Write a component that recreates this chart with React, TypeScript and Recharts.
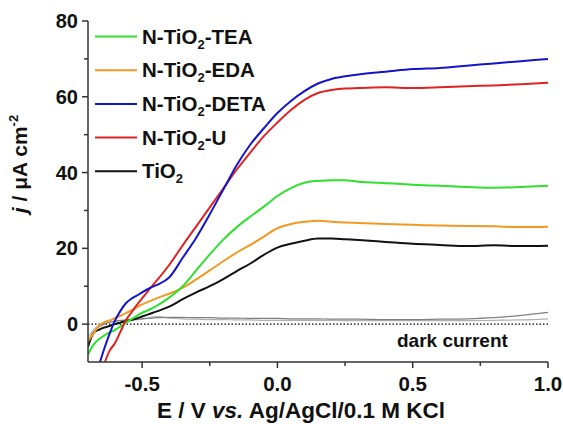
import React from 'react';
import { LineChart, Line, XAxis, YAxis, ReferenceLine } from 'recharts';

// potential (V vs. Ag/AgCl) shared by all curves
const potential = [
  -0.7, -0.68, -0.66, -0.64, -0.62, -0.6, -0.58, -0.56, -0.54, -0.52, -0.5, -0.48, -0.46, -0.44,
  -0.4, -0.35, -0.3, -0.25, -0.2, -0.15, -0.1, -0.05, 0, 0.05, 0.1, 0.15, 0.2, 0.25, 0.3, 0.4,
  0.5, 0.6, 0.7, 0.8, 0.9, 1.0,
];

// photocurrent density, µA cm^-2
const teaCurrent = [
  -8, -5.5, -4, -3, -2.2, -1.5, -0.6, 0.4, 1.3, 2.2, 3.0, 3.6, 4.3, 5.1,
  7.0, 10.0, 14.2, 18.4, 22.3, 25.6, 28.4, 31.0, 33.8, 35.9, 37.3, 37.8, 38.0, 38.0, 37.6, 37.2,
  36.8, 36.5, 36.2, 36.0, 36.2, 36.5,
];
const edaCurrent = [
  -4.5, -2.5, -0.5, 0.5, 1.0, 1.6, 2.2, 2.9, 3.6, 4.4, 5.2, 5.8, 6.4, 7.0,
  8.0, 9.6, 11.8, 14.2, 16.6, 18.9, 20.9, 23.1, 25.3, 26.4, 27.0, 27.3, 27.0, 26.8, 26.7, 26.4,
  26.2, 26.0, 25.9, 25.8, 25.6, 25.7,
];
const detaCurrent = [
  null, null, -11, -6.5, -2.5, 1.0, 3.5, 5.5, 6.7, 7.5, 8.4, 9.2, 9.9, 10.5,
  12.3, 17.5, 22.8, 29.0, 35.5, 42.0, 47.4, 51.7, 55.7, 58.9, 61.5, 63.5, 64.7, 65.4, 65.9, 66.6,
  67.3, 67.6, 68.2, 68.8, 69.4, 70.0,
];
const uCurrent = [
  null, null, null, -10.5, -7, -5, -2, 1.0, 3.0, 5.0, 6.8, 8.6, 10.3, 12.0,
  15.6, 20.8, 25.8, 30.8, 35.8, 40.8, 45.3, 49.6, 53.2, 56.5, 59.2, 61.0, 61.8, 62.2, 62.3, 62.5,
  62.3, 62.5, 62.8, 63.0, 63.3, 63.7,
];
const tio2Current = [
  -6, -2.4, -1.5, -0.9, -0.5, 0, 0.4, 0.8, 1.1, 1.5, 2.0, 2.5, 3.0, 3.5,
  4.6, 6.6, 8.4, 10.0, 11.9, 14.0, 16.0, 18.3, 20.2, 21.2, 22.0, 22.6, 22.6, 22.4, 22.2, 21.7,
  21.2, 20.9, 20.6, 20.8, 20.6, 20.7,
];
const darkCurrentA = [
  -4.8, -2.2, -0.8, 0.0, 0.5, 0.8, 1.0, 1.1, 1.2, 1.3, 1.4, 1.5, 1.6, 1.7,
  1.8, 1.8, 1.7, 1.7, 1.6, 1.6, 1.5, 1.5, 1.5, 1.4, 1.4, 1.4, 1.3, 1.3, 1.3, 1.2,
  1.2, 1.3, 1.4, 1.7, 2.3, 3.1,
];
const darkCurrentB = [
  -3.5, -1.5, -0.4, 0.2, 0.5, 0.7, 0.9, 1.0, 1.1, 1.2, 1.4, 1.6, 1.9, 2.0,
  1.6, 1.4, 1.3, 1.2, 1.2, 1.1, 1.1, 1.0, 1.0, 1.0, 1.0, 1.0, 1.0, 0.9, 0.9, 0.9,
  0.9, 0.9, 0.9, 1.0, 1.1, 1.4,
];

const xTicks = [-0.5, -0.25, 0, 0.25, 0.5, 0.75, 1.0];
const xLabelled = [-0.5, 0, 0.5, 1.0];
const yTicks = [0, 10, 20, 30, 40, 50, 60, 70, 80];
const yLabelled = [0, 20, 40, 60, 80];

const legendNames = [
  { key: 'tea', sub: 'TEA', color: '#2fe02f' },
  { key: 'eda', sub: 'EDA', color: '#f09a23' },
  { key: 'deta', sub: 'DETA', color: '#1414c8' },
  { key: 'u', sub: 'U', color: '#e02222' },
  { key: 'tio2', sub: '', color: '#111111' },
];

const data = potential.map((e, i) => ({
  e,
  tea: teaCurrent[i],
  eda: edaCurrent[i],
  deta: detaCurrent[i],
  u: uCurrent[i],
  tio2: tio2Current[i],
  darkA: darkCurrentA[i],
  darkB: darkCurrentB[i],
}));

const font = '"Liberation Sans", Arial, sans-serif';
const axisColor = '#333';

const XTick = (props: any) => {
  const { x, y, payload } = props;
  const major = xLabelled.includes(payload.value);
  return (
    <g>
      <line x1={x} y1={y} x2={x} y2={y + (major ? 6 : 4)} stroke={axisColor} strokeWidth={1.5} />
      {major && (
        <text x={x} y={y + 29} textAnchor="middle" fontFamily={font} fontWeight="bold" fontSize={20.5} fill="#111">
          {payload.value.toFixed(1)}
        </text>
      )}
    </g>
  );
};

const YTick = (props: any) => {
  const { x, y, payload } = props;
  const major = yLabelled.includes(payload.value);
  return (
    <g>
      <line x1={x} y1={y} x2={x - (major ? 6 : 4)} y2={y} stroke={axisColor} strokeWidth={1.5} />
      {major && (
        <text x={x - 10} y={y + 7} textAnchor="end" fontFamily={font} fontWeight="bold" fontSize={20} fill="#111">
          {payload.value}
        </text>
      )}
    </g>
  );
};

const App = () => {
  return (
    <div style={{ position: 'absolute', left: 0, top: 0, background: '#fff' }}>
      <LineChart width={563} height={424} data={data} margin={{ top: 21, right: 15, left: 0, bottom: 0 }}>
        <XAxis
          dataKey="e"
          type="number"
          domain={[-0.7, 1.0]}
          ticks={xTicks}
          allowDataOverflow
          height={62}
          tickSize={0}
          tickMargin={0}
          tickLine={false}
          axisLine={{ stroke: axisColor, strokeWidth: 1.5 }}
          tick={<XTick />}
          interval={0}
        />
        <XAxis xAxisId="top" orientation="top" type="number" domain={[-0.7, 1.0]} height={0} tick={false} tickLine={false} axisLine={{ stroke: axisColor, strokeWidth: 1.5 }} />
        <YAxis
          type="number"
          domain={[-10, 80]}
          ticks={yTicks}
          allowDataOverflow
          width={88}
          tickSize={0}
          tickMargin={0}
          tickLine={false}
          axisLine={{ stroke: axisColor, strokeWidth: 1.5 }}
          tick={<YTick />}
          interval={0}
        />
        <YAxis yAxisId="right" orientation="right" type="number" domain={[-10, 80]} width={0} tick={false} tickLine={false} axisLine={{ stroke: axisColor, strokeWidth: 1.5 }} />

        <ReferenceLine y={0} stroke="#000" strokeWidth={1.2} strokeDasharray="1.5 2" />

        <Line dataKey="darkB" stroke="#b0b0b0" strokeWidth={1.2} dot={false} type="monotone" isAnimationActive={false} />
        <Line dataKey="darkA" stroke="#808080" strokeWidth={1.2} dot={false} type="monotone" isAnimationActive={false} />
        <Line dataKey="tio2" stroke="#111111" strokeWidth={2} dot={false} type="monotone" isAnimationActive={false} />
        <Line dataKey="eda" stroke="#f09a23" strokeWidth={2} dot={false} type="monotone" isAnimationActive={false} />
        <Line dataKey="tea" stroke="#2fe02f" strokeWidth={2} dot={false} type="monotone" isAnimationActive={false} />
        <Line dataKey="u" stroke="#e02222" strokeWidth={2} dot={false} type="monotone" isAnimationActive={false} />
        <Line dataKey="deta" stroke="#1414c8" strokeWidth={2} dot={false} type="monotone" isAnimationActive={false} />

        {/* legend */}
        <g fontFamily={font} fontWeight="bold" fill="#111">
          {legendNames.map((s, i) => {
            const ly = 36.5 + i * 33.7;
            return (
              <g key={s.key}>
                <line x1={95} y1={ly} x2={137} y2={ly} stroke={s.color} strokeWidth={2} />
                {s.sub ? (
                  <text x={142} y={ly + 7} fontSize={20.5}>
                    N-TiO<tspan fontSize={13} dy={5}>2</tspan>
                    <tspan dy={-5}>-{s.sub}</tspan>
                  </text>
                ) : (
                  <text x={142} y={ly + 7} fontSize={20.5}>
                    TiO<tspan fontSize={13} dy={5}>2</tspan>
                  </text>
                )}
              </g>
            );
          })}
        </g>

        <text x={397} y={347} fontFamily={font} fontWeight="bold" fontSize={19} fill="#111">dark current</text>

        <text x={301} y={418} textAnchor="middle" fontFamily={font} fontWeight="bold" fontSize={22.5} fill="#111">
          E / V <tspan fontStyle="italic">vs.</tspan> Ag/AgCl/0.1 M KCl
        </text>

        <text x={27} y={164} textAnchor="middle" transform="rotate(-90 27 164)" fontFamily={font} fontWeight="bold" fontSize={21} fill="#111">
          <tspan fontStyle="italic">j</tspan> / μA cm<tspan fontSize={13} dy={-9}>-2</tspan>
        </text>
      </LineChart>
    </div>
  );
};

export default App;
